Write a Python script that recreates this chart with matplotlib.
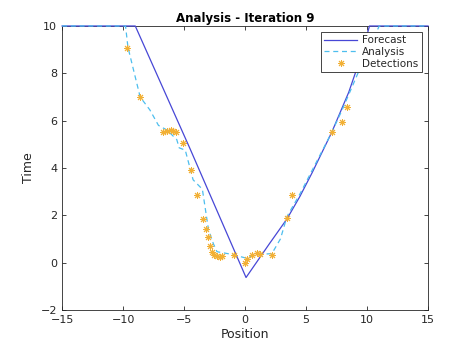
import matplotlib
matplotlib.use("Agg")
import matplotlib.pyplot as plt

# forecast curve (solid)
forecast_x = [-15, -9.0, -4.5, 0.08, 2.0, 3.44, 4.5, 5.5, 7.1, 8.5, 9.5, 10.2, 15]
forecast_y = [10, 10, 4.8, -0.63, 0.8, 1.85, 2.8, 3.8, 5.5, 7.2, 8.7, 10, 10]

# analysis curve (dashed)
analysis_x = [-15, -9.8, -9.6, -8.6, -7.8, -7.1, -6.4, -5.6, -5.4, -4.9, -4.26, -3.5,
              -3.0, -2.6, -2.3, -1.0, 0.0, 1.0, 2.2, 2.9, 3.44, 4.5, 7.1, 8.0, 9.5, 11.0, 15]
analysis_y = [10, 10, 9.1, 7.0, 6.45, 5.8, 5.6, 5.2, 4.85, 4.75, 3.5, 3.1,
              1.4, 0.8, 0.46, 0.34, 0.2, 0.34, 0.38, 1.0, 1.95, 2.9, 5.5, 6.5, 8.3, 10, 10]

# detections
det_x = [-9.67, -8.6, -6.7, -6.4, -6.1, -5.9, -5.65, -5.1, -4.4, -3.9, -3.44, -3.2,
         -3.0, -2.87, -2.7, -2.54, -2.3, -2.05, -1.9, -0.9, 0.0, 0.16, 0.57, 0.98,
         1.2, 2.2, 3.44, 3.85, 7.13, 7.95, 8.36]
det_y = [9.07, 7.0, 5.53, 5.57, 5.6, 5.57, 5.53, 5.06, 3.9, 2.87, 1.86, 1.43,
         1.1, 0.72, 0.46, 0.34, 0.27, 0.25, 0.28, 0.34, 0.0, 0.17, 0.34, 0.42,
         0.38, 0.34, 1.9, 2.87, 5.53, 5.95, 6.58]

txt = "#262626"
plt.rcParams["font.family"] = "DejaVu Sans"
fig = plt.figure(figsize=(4.74, 3.49), dpi=100)
ax = fig.add_axes([0.131, 0.112, 0.772, 0.8135])

ax.plot(forecast_x, forecast_y, "-", color="#4747d6", lw=0.9, label="Forecast",
        clip_on=False, zorder=3)
ax.plot(analysis_x, analysis_y, "--", color="#4dbeee", lw=0.9, dashes=(4, 3),
        label="Analysis", clip_on=False, zorder=3)
ax.plot(det_x, det_y, ls="none", marker=(8, 2, 0), ms=5, mew=0.7,
        color="#f2b035", label="Detections", zorder=4)

ax.set_xlim(-15, 15)
ax.set_ylim(-2, 10)
ax.set_xticks(range(-15, 16, 5))
ax.set_yticks(range(-2, 11, 2))
ax.tick_params(direction="in", top=True, right=True, labelsize=8, colors=txt,
               length=3, width=0.6)
for s in ax.spines.values():
    s.set_color(txt)
    s.set_linewidth(0.6)

ax.set_title("Analysis - Iteration 9", fontsize=8.5, fontweight="bold", color="black", pad=3)
ax.set_xlabel("Position", fontsize=9, color=txt, labelpad=2)
ax.set_ylabel("Time", fontsize=9, color=txt, labelpad=4)

leg = ax.legend(loc="upper right", fontsize=7.5, fancybox=False, framealpha=1,
                edgecolor=txt, handlelength=3.2, borderpad=0.3, labelspacing=0.15,
                handletextpad=0.5, borderaxespad=0.6)
leg.get_frame().set_linewidth(0.6)
leg.set_zorder(5)
for t in leg.get_texts():
    t.set_color(txt)

fig.savefig("out.png", dpi=100)
